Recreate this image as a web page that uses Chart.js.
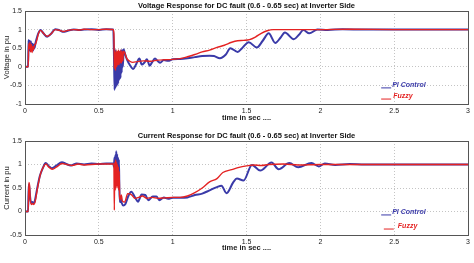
<!DOCTYPE html>
<html>
<head>
<meta charset="utf-8">
<script src="https://cdn.jsdelivr.net/npm/chart.js@4"></script>
<style>
  html, body { margin: 0; padding: 0; background: #fff; }
  body { width: 474px; height: 263px; position: relative; overflow: hidden; }
  .box { position: absolute; left: 0; width: 474px; }
  #topBox { top: 0; height: 130px; }
  #botBox { top: 130px; height: 133px; }
</style>
</head>
<body>
<div class="box" id="topBox"><canvas id="voltChart"></canvas></div>
<div class="box" id="botBox"><canvas id="currChart"></canvas></div>
<script>
// Voltage response, PI control (blue)
const voltPiT = [0, 0.021, 0.024, 0.028, 0.032, 0.036, 0.04, 0.045, 0.05, 0.055, 0.06, 0.065, 0.07, 0.078, 0.09, 0.105, 0.125, 0.15, 0.175, 0.205, 0.235, 0.26, 0.29, 0.33, 0.37, 0.4, 0.45, 0.5, 0.55, 0.598,
  0.603, 0.607, 0.611, 0.615, 0.619, 0.623, 0.627, 0.631, 0.635, 0.639, 0.643, 0.647, 0.651, 0.655, 0.659, 0.663, 0.668, 0.675, 0.69, 0.71, 0.733, 0.75, 0.775, 0.79, 0.81, 0.825, 0.845, 0.86, 0.88, 0.9, 0.915, 0.94, 0.97,
  1.0, 1.05, 1.1, 1.15, 1.2, 1.25, 1.28, 1.32, 1.36, 1.39, 1.44, 1.47, 1.515, 1.57, 1.61, 1.65, 1.695, 1.73, 1.76, 1.82, 1.855, 1.885, 1.925, 1.98, 2.05, 2.15, 2.3, 2.5, 2.7, 3.0];
const voltPiV = [0, 0, 0.72, 0.45, 0.7, 0.42, 0.68, 0.45, 0.62, 0.44, 0.6, 0.5, 0.62, 0.75, 0.9, 0.99, 0.9, 0.81, 0.88, 1.01, 0.98, 0.94, 0.97, 1.0, 0.99, 1.0, 1.01, 0.99, 1.01, 1.0,
  0.2, -0.62, 0.45, -0.55, 0.35, -0.5, 0.4, -0.45, 0.42, -0.35, 0.4, -0.3, 0.45, -0.15, 0.45, 0.0, 0.47, 0.38, 0.2, 0.05, -0.06, 0.05, 0.22, 0.06, 0.12, 0.2, 0.03, 0.12, 0.22, 0.15, 0.11, 0.18, 0.16,
  0.2, 0.21, 0.23, 0.26, 0.29, 0.3, 0.29, 0.23, 0.33, 0.5, 0.4, 0.5, 0.66, 0.52, 0.7, 0.9, 0.64, 0.78, 0.92, 0.74, 0.86, 0.99, 0.9, 1.0, 0.99, 1.01, 1.0, 1.0, 1.0, 1.0];

// Voltage response, Fuzzy (red)
const voltFzT = [0, 0.022, 0.025, 0.03, 0.034, 0.038, 0.043, 0.048, 0.053, 0.058, 0.064, 0.07, 0.08, 0.092, 0.105, 0.125, 0.15, 0.175, 0.205, 0.235, 0.26, 0.29, 0.33, 0.37, 0.4, 0.45, 0.5, 0.55, 0.598,
  0.602, 0.605, 0.609, 0.613, 0.617, 0.621, 0.625, 0.629, 0.633, 0.637, 0.641, 0.645, 0.649, 0.653, 0.657, 0.662, 0.667, 0.675, 0.69, 0.71, 0.73, 0.76, 0.8, 0.85, 0.9, 0.95,
  1.0, 1.05, 1.1, 1.15, 1.2, 1.25, 1.3, 1.35, 1.4, 1.44, 1.48, 1.52, 1.56, 1.6, 1.64, 1.68, 1.8, 2.0, 2.2, 2.5, 2.8, 3.0];
const voltFzV = [0, 0, 0.62, 0.5, 0.66, 0.4, 0.6, 0.38, 0.55, 0.46, 0.58, 0.6, 0.72, 0.9, 0.98, 0.9, 0.82, 0.88, 1.0, 0.98, 0.95, 0.98, 1.0, 0.99, 1.01, 1.0, 1.0, 1.01, 1.0,
  0.9, -0.05, 0.4, -0.1, 0.45, 0.0, 0.42, 0.05, 0.45, 0.05, 0.42, 0.1, 0.45, 0.1, 0.42, 0.15, 0.42, 0.38, 0.22, 0.15, 0.12, 0.14, 0.16, 0.15, 0.18, 0.19,
  0.2, 0.22, 0.27, 0.33, 0.4, 0.45, 0.52, 0.58, 0.66, 0.7, 0.71, 0.73, 0.8, 0.9, 0.97, 1.0, 1.0, 1.0, 1.01, 1.0, 1.0, 1.0];

// Current response, PI control (blue)
const currPiT = [0, 0.021, 0.025, 0.03, 0.035, 0.042, 0.05, 0.058, 0.066, 0.08, 0.1, 0.12, 0.14, 0.16, 0.18, 0.21, 0.25, 0.28, 0.31, 0.35, 0.4, 0.45, 0.5, 0.55, 0.598,
  0.602, 0.606, 0.609, 0.612, 0.615, 0.618, 0.621, 0.624, 0.627, 0.63, 0.633, 0.636, 0.639, 0.642, 0.648, 0.655, 0.665, 0.68, 0.7, 0.72, 0.745, 0.765, 0.79, 0.815, 0.835, 0.865, 0.89, 0.91, 0.94, 0.97,
  1.0, 1.05, 1.1, 1.15, 1.2, 1.25, 1.3, 1.33, 1.365, 1.41, 1.435, 1.48, 1.537, 1.593, 1.67, 1.717, 1.79, 1.85, 1.94, 1.99, 2.03, 2.1, 2.2, 2.3, 2.5, 2.7, 3.0];
const currPiV = [0, 0, 0.58, 0.5, 0.3, 0.18, 0.2, 0.17, 0.22, 0.45, 0.75, 0.92, 1.03, 0.97, 0.92, 0.97, 1.05, 1.01, 0.98, 1.02, 1.0, 1.02, 1.01, 1.02, 1.02,
  0.95, 1.15, 0.85, 1.2, 0.9, 1.28, 0.85, 1.22, 0.8, 1.15, 0.78, 1.1, 0.5, 0.2, 0.28, 0.18, 0.13, 0.16, 0.33, 0.42, 0.3, 0.21, 0.36, 0.35, 0.24, 0.32, 0.32, 0.24, 0.3, 0.27,
  0.29, 0.29, 0.3, 0.35, 0.38, 0.45, 0.52, 0.55, 0.39, 0.62, 0.7, 0.66, 0.99, 0.87, 1.04, 0.9, 1.03, 0.94, 1.03, 0.96, 1.02, 0.99, 1.01, 1.0, 1.0, 1.0, 1.0];

// Current response, Fuzzy (red)
const currFzT = [0, 0.022, 0.026, 0.031, 0.036, 0.044, 0.052, 0.06, 0.068, 0.085, 0.105, 0.125, 0.142, 0.16, 0.185, 0.215, 0.25, 0.285, 0.32, 0.36, 0.4, 0.5, 0.598,
  0.602, 0.605, 0.608, 0.611, 0.614, 0.617, 0.62, 0.623, 0.626, 0.629, 0.632, 0.635, 0.638, 0.641, 0.645, 0.652, 0.66, 0.675, 0.695, 0.72, 0.745, 0.77, 0.795, 0.825, 0.86, 0.9, 0.95,
  1.0, 1.05, 1.1, 1.15, 1.2, 1.25, 1.3, 1.34, 1.4, 1.45, 1.5, 1.55, 1.6, 1.65, 1.75, 1.85, 2.0, 2.2, 2.5, 2.8, 3.0];
const currFzV = [0, 0, 0.62, 0.55, 0.25, 0.15, 0.17, 0.15, 0.2, 0.5, 0.8, 0.95, 1.01, 0.95, 0.9, 0.95, 1.02, 1.0, 0.98, 1.01, 0.99, 1.01, 1.01,
  1.0, 0.03, 1.05, 0.45, 1.1, 0.5, 1.05, 0.55, 1.0, 0.5, 0.95, 0.45, 0.85, 0.3, 0.25, 0.35, 0.22, 0.2, 0.38, 0.36, 0.28, 0.3, 0.33, 0.28, 0.3, 0.28, 0.29,
  0.3, 0.3, 0.33, 0.4, 0.5, 0.63, 0.7, 0.83, 0.89, 0.94, 0.97, 0.99, 0.98, 1.0, 1.01, 0.99, 1.0, 1.0, 1.0, 1.0, 1.0];

const xTicks = [0, 0.5, 1, 1.5, 2, 2.5, 3];
const piLabel = 'PI Control';
const fuzzyLabel = 'Fuzzy';

const blue = '#3a3aa8';
const red = '#e42222';

Chart.defaults.font.family = '"Liberation Sans", Arial, sans-serif';
Chart.defaults.color = '#222';

function pts(ts, vs) {
    return ts.map((t, i) => ({ x: t, y: vs[i] }));
}

// matlab style labels: 1 instead of 1.0
function plainTick(value) {
    return String(Math.round(value * 100) / 100);
}

// box round the plot area, like matlab axes
const framePlugin = {
    id: 'frame',
    afterDraw(chart) {
        const a = chart.chartArea;
        const ctx = chart.ctx;
        ctx.save();
        ctx.strokeStyle = '#555';
        ctx.lineWidth = 1;
        ctx.strokeRect(Math.round(a.left) + 0.5, Math.round(a.top) + 0.5,
            Math.round(a.right - a.left), Math.round(a.bottom - a.top));
        ctx.restore();
    }
};

// small legend inside the plot, no box
const innerLegend = {
    id: 'innerLegend',
    afterDatasetsDraw(chart, args, opts) {
        const a = chart.chartArea;
        const ctx = chart.ctx;
        const w = a.right - a.left, h = a.bottom - a.top;
        ctx.save();
        ctx.font = 'italic bold 7px "Liberation Sans", Arial, sans-serif';
        ctx.textBaseline = 'middle';
        chart.data.datasets.forEach((ds, i) => {
            const y = a.top + h * opts.rows[i];
            const x0 = a.left + w * opts.lineX[i];
            ctx.strokeStyle = ds.borderColor;
            ctx.lineWidth = 1;
            ctx.beginPath();
            ctx.moveTo(x0, y + 2.5);
            ctx.lineTo(x0 + 10, y + 2.5);
            ctx.stroke();
            ctx.fillStyle = ds.borderColor;
            ctx.fillText(ds.label, x0 + opts.textGap[i], y);
        });
        ctx.restore();
    }
};

function makeChart(id, title, yTitle, yMin, yMax, piData, fzData, xHeight, xTitlePad, legendRows) {
    const ctx = document.getElementById(id).getContext('2d');
    return new Chart(ctx, {
        type: 'line',
        data: {
            datasets: [{
                label: piLabel,
                data: piData,
                borderColor: blue,
                borderWidth: 2,
                order: 1
            }, {
                label: fuzzyLabel,
                data: fzData,
                borderColor: red,
                borderWidth: 1.4,
                order: 0
            }]
        },
        options: {
            responsive: true,
            maintainAspectRatio: false,
            animation: false,
            parsing: false,
            elements: {
                point: { radius: 0 },
                line: { cubicInterpolationMode: 'monotone' }
            },
            layout: { padding: { top: 0, left: 0, right: 6, bottom: 0 } },
            plugins: {
                legend: { display: false },
                tooltip: { enabled: false },
                title: {
                    display: true,
                    fullSize: false,
                    text: title,
                    font: { size: 7.5, weight: 'bold', lineHeight: 1.2 },
                    padding: { top: 1, bottom: 1 },
                    color: '#111'
                },
                innerLegend: legendRows
            },
            scales: {
                x: {
                    type: 'linear',
                    min: 0,
                    max: 3,
                    afterBuildTicks: (s) => { s.ticks = xTicks.map(v => ({ value: v })); },
                    afterFit: (s) => { s.height = xHeight; },
                    grid: { color: '#c4c4c4', borderDash: [1, 2], drawTicks: false },
                    border: { display: false, dash: [1, 2] },
                    ticks: { padding: 3, font: { size: 7 }, maxRotation: 0, callback: plainTick },
                    title: {
                        display: true,
                        text: 'time in sec ....',
                        font: { size: 7.5, weight: 'bold', lineHeight: 1.2 },
                        padding: { top: 0, bottom: xTitlePad }
                    }
                },
                y: {
                    min: yMin,
                    max: yMax,
                    afterFit: (s) => { s.width = 25; },
                    grid: { color: '#c4c4c4', drawTicks: false },
                    border: { display: false, dash: [1, 2] },
                    ticks: { stepSize: 0.5, padding: 3, font: { size: 7 }, callback: plainTick },
                    title: {
                        display: true,
                        text: yTitle,
                        font: { size: 7.5, lineHeight: 1.2 },
                        padding: { top: 2.5, bottom: 0 }
                    }
                }
            }
        },
        plugins: [framePlugin, innerLegend]
    });
}

makeChart('voltChart', 'Voltage Response for DC fault (0.6 - 0.65 sec) at Inverter Side', 'Voltage in pu',
    -1, 1.5, pts(voltPiT, voltPiV), pts(voltFzT, voltFzV), 26, 7.5,
    { rows: [0.80, 0.92], lineX: [0.804, 0.804], textGap: [11, 12] });
makeChart('currChart', 'Current Response for DC fault (0.6 - 0.65 sec) at Inverter Side', 'Current in pu',
    -0.5, 1.5, pts(currPiT, currPiV), pts(currFzT, currFzV), 28, 10.5,
    { rows: [0.76, 0.91], lineX: [0.804, 0.81], textGap: [11, 14] });
</script>
</body>
</html>
